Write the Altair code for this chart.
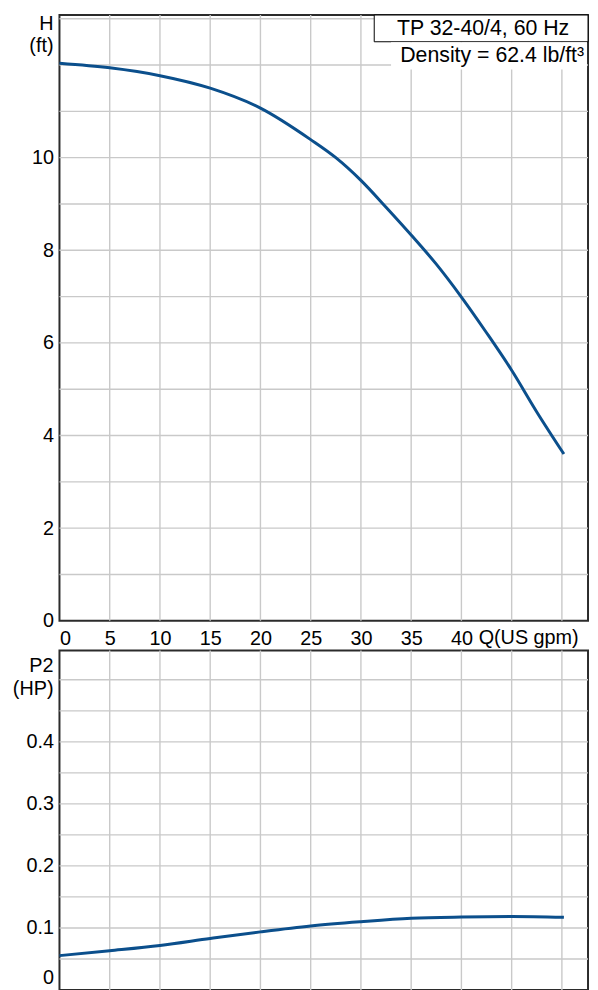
import altair as alt
import pandas as pd

# ---- data ----
q_head = [0, 5, 10, 15, 20, 25, 27.5, 30, 32.5, 35, 37.5, 40, 42.5, 45, 47.5, 50.2]
head_ft = [12.04, 11.94, 11.77, 11.50, 11.07, 10.39, 10.0, 9.51, 8.93, 8.33, 7.70,
           6.99, 6.22, 5.41, 4.51, 3.60]

q_power = [0, 5, 10, 15, 20, 25, 30, 35, 40, 45, 50.2]
power_hp = [0.0554, 0.0633, 0.0718, 0.083, 0.0937, 0.1032, 0.110, 0.1155, 0.1176,
            0.1185, 0.1171]

x_grid = [5, 10, 15, 20, 25, 30, 35, 40, 45, 50]
x_labels = [0, 5, 10, 15, 20, 25, 30, 35, 40]
h_grid = [1, 2, 3, 4, 5, 6, 7, 8, 9, 10, 11, 12, 13]
h_labels = [0, 2, 4, 6, 8, 10]
p_grid = [0.05, 0.1, 0.15, 0.2, 0.25, 0.3, 0.35, 0.4, 0.45, 0.5]
p_labels = [0, 0.1, 0.2, 0.3, 0.4]

title_text = "TP 32-40/4, 60 Hz"
density_text = "Density = 62.4 lb/ft³"
h_title = ["H", "(ft)"]
p_title = ["P2", "(HP)"]
q_title = "Q(US gpm)"

FONT = "Liberation Sans"
CURVE = "#0b4f8c"
GRID = "#c9c9c9"
W = 534
FS = 20

head_df = pd.DataFrame({"q": q_head, "h": head_ft})
power_df = pd.DataFrame({"q": q_power, "p": power_hp})
one = pd.DataFrame({"k": [0]})

x_scale = alt.Scale(domain=[0, 52.6], nice=False, zero=False)
h_scale = alt.Scale(domain=[0, 13.08], nice=False)
p_scale = alt.Scale(domain=[0, 0.5473], nice=False)

top_x_axis = alt.Axis(
    values=x_labels, format="d", labelPadding=8,
    title=q_title, titleX=423, titleY=23, titleAlign="left",
    titleBaseline="alphabetic", titleAngle=0,
)
top_y_axis = alt.Axis(values=h_labels, format="d", labelPadding=6, title=None)
bot_x_axis = alt.Axis(values=x_labels, labels=False, title=None)
bot_y_axis = alt.Axis(
    values=p_labels, format="~g", labelPadding=6,
    labelFlush=True, labelFlushOffset=-3, title=None,
)


def label(txt, x, y, size=FS, align="right"):
    return alt.Chart(one).mark_text(
        font=FONT, fontSize=size, align=align, baseline="alphabetic", color="black"
    ).encode(x=alt.value(x), y=alt.value(y), text=alt.value(txt))


def vgrid(scale, axis):
    return alt.Chart(pd.DataFrame({"q": x_grid})).mark_rule(
        color=GRID, strokeWidth=1.4
    ).encode(x=alt.X("q:Q", scale=scale, axis=axis))


def hgrid(field, values, scale, axis):
    return alt.Chart(pd.DataFrame({field: values})).mark_rule(
        color=GRID, strokeWidth=1.4
    ).encode(y=alt.Y(f"{field}:Q", scale=scale, axis=axis))


line_h = alt.Chart(head_df).mark_line(
    color=CURVE, strokeWidth=3, interpolate="monotone"
).encode(
    x=alt.X("q:Q", scale=x_scale, axis=top_x_axis),
    y=alt.Y("h:Q", scale=h_scale, axis=top_y_axis),
)

box = alt.Chart(one).mark_rect(fill="white", stroke="black", strokeWidth=1).encode(
    x=alt.value(318), x2=alt.value(W), y=alt.value(0), y2=alt.value(27)
)
dens_bg = alt.Chart(one).mark_rect(fill="white").encode(
    x=alt.value(335), x2=alt.value(W - 1), y=alt.value(27.5), y2=alt.value(55)
)

top = alt.layer(
    vgrid(x_scale, top_x_axis), hgrid("h", h_grid, h_scale, top_y_axis),
    line_h, box, dens_bg,
    label(title_text, 428, 20.5, size=21.5, align="center"),
    label(density_text, 530, 47.7, size=21.5),
    label(h_title[0], -6, 15.5),
    label(h_title[1], -6, 37),
).properties(width=W, height=612)

line_p = alt.Chart(power_df).mark_line(
    color=CURVE, strokeWidth=3, interpolate="monotone"
).encode(
    x=alt.X("q:Q", scale=x_scale, axis=bot_x_axis),
    y=alt.Y("p:Q", scale=p_scale, axis=bot_y_axis),
)

bottom = alt.layer(
    vgrid(x_scale, bot_x_axis), hgrid("p", p_grid, p_scale, bot_y_axis), line_p,
    label(p_title[0], -6, 22),
    label(p_title[1], -6, 44.5),
).properties(width=W, height=343)

chart = alt.vconcat(top, bottom, spacing=30, bounds="flush").properties(
    padding={"left": 3, "top": 0, "right": 0, "bottom": 0}
).configure_view(
    stroke="#2b2b2b", strokeWidth=2
).configure_axis(
    grid=False, ticks=False, domain=False,
    labelFont=FONT, labelFontSize=FS, labelColor="black",
    titleFont=FONT, titleFontSize=FS, titleColor="black", titleFontWeight="normal",
)

chart.save("out.html", embed_options={"renderer": "svg", "actions": False})
